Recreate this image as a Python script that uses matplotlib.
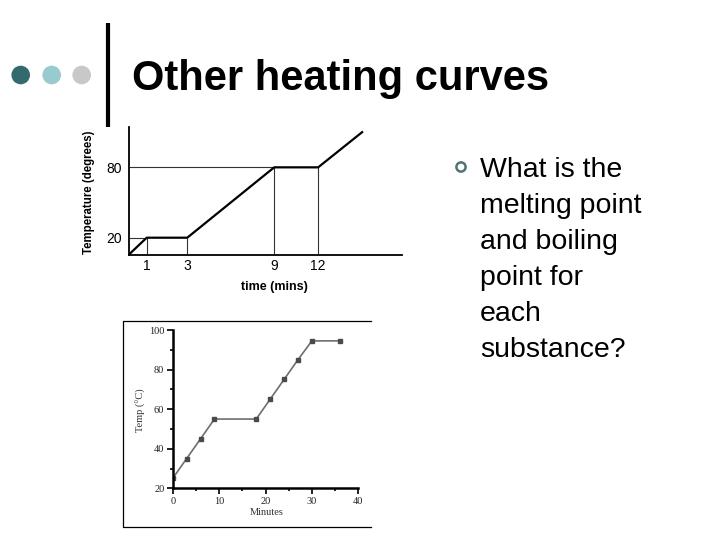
import matplotlib.pyplot as plt
import numpy as np
from matplotlib.patches import Circle

# top chart: schematic heating curve
top_minutes = [0, 1, 3, 9, 12, 15]
top_temps = [0, 20, 20, 80, 80, 110]
top_xticks = [1, 3, 9, 12]
top_yticks = [20, 80]
# plateaus (start minute, end minute, temperature) for the guide lines
plateaus = [(1, 3, 20), (9, 12, 80)]

# bottom chart: measured heating curve
bot_minutes = [0, 3, 6, 9, 18, 21, 24, 27, 30, 36]
bot_temps = [25, 35, 45, 55, 55, 65, 75, 85, 94.5, 94.5]

question = ['What is the', 'melting point', 'and boiling', 'point for', 'each', 'substance?']

# the top chart's axes are drawn unevenly, so use a piecewise scale
x_anchor_min = [-10, 0, 1, 3, 9, 12, 40]
x_anchor_px = [-177, 0, 17.7, 58.3, 145.3, 189.3, 600.0]
y_anchor_deg = [-50, 0, 20, 80, 200]
y_anchor_px = [-44, 0, 16.8, 87.2, 228.0]


def fx(v):
    return np.interp(v, x_anchor_min, x_anchor_px)


def fx_inv(v):
    return np.interp(v, x_anchor_px, x_anchor_min)


def fy(v):
    return np.interp(v, y_anchor_deg, y_anchor_px)


def fy_inv(v):
    return np.interp(v, y_anchor_px, y_anchor_deg)


sans = ['Liberation Sans', 'DejaVu Sans']
serif = ['Liberation Serif', 'DejaVu Serif']

fig = plt.figure(figsize=(7.2, 5.4), dpi=100)

# slide decoration in pixel coordinates
bg = fig.add_axes([0, 0, 1, 1])
bg.set_xlim(0, 720)
bg.set_ylim(540, 0)
bg.axis('off')

for cx, clr in [(20.7, '#336a6d'), (51.7, '#98cbd0'), (81.7, '#c8c8c8')]:
    bg.add_patch(Circle((cx, 75), 9.3, color=clr, lw=0))
bg.plot([107.5, 107.5], [23, 127], color='black', lw=3, solid_capstyle='butt')
bg.text(132, 90, 'Other heating curves', fontsize=30, fontweight='bold',
        family=sans, va='baseline', ha='left')

bg.add_patch(Circle((461, 167), 4.6, fill=False, ec='#4f7477', lw=1.8))
for i, line in enumerate(question):
    bg.text(480, 177 + i * 36, line, fontsize=20.5, family=sans,
            va='baseline', ha='left')

# frame around the bottom picture
bg.plot([371, 122.7, 122.7, 371], [321, 321, 526.7, 526.7], color='black', lw=0.9)

# top chart
ax1 = fig.add_axes([129 / 720, 1 - 254.5 / 540, 272.7 / 720, 127.5 / 540])
ax1.set_facecolor('none')
ax1.set_xscale('function', functions=(fx, fx_inv))
ax1.set_yscale('function', functions=(fy, fy_inv))
for start, end, temp in plateaus:
    ax1.hlines(temp, 0, start, color='#333333', lw=0.8)
    ax1.vlines([start, end], 0, temp, color='#333333', lw=0.8)
ax1.plot(top_minutes, top_temps, color='black', lw=1.6)
ax1.set_xlim(0, 17.7)
ax1.set_ylim(0, 114.4)
ax1.set_xticks(top_xticks)
ax1.set_yticks(top_yticks)
ax1.xaxis.set_minor_locator(plt.NullLocator())
ax1.yaxis.set_minor_locator(plt.NullLocator())
ax1.tick_params(length=0, labelsize=10)
ax1.tick_params(axis='x', pad=3)
ax1.tick_params(axis='y', pad=5)
for lbl in ax1.get_xticklabels() + ax1.get_yticklabels():
    lbl.set_family(sans)
for s in ['top', 'right']:
    ax1.spines[s].set_visible(False)
for s in ['left', 'bottom']:
    ax1.spines[s].set_linewidth(1.3)
ax1.set_ylabel('Temperature (degrees)', fontsize=8.3, fontweight='bold', family=sans, va='center')
ax1.yaxis.set_label_coords(-0.147, 0.49)
ax1.set_xlabel('time (mins)', fontsize=9, fontweight='bold', family=sans, va='center')
ax1.xaxis.set_label_coords(0.535, -0.255)

# bottom chart
ax2 = fig.add_axes([172.7 / 720, 1 - 488.3 / 540, 185.6 / 720, 158.3 / 540])
ax2.set_facecolor('none')
ax2.plot(bot_minutes, bot_temps, color='#6e6e6e', lw=1.2, marker='s', ms=3,
         mfc='#4a4a4a', mec='#4a4a4a')
ax2.set_xlim(0, 40)
ax2.set_ylim(20, 100)
ax2.set_xticks(np.arange(0, 41, 10))
ax2.set_xticks(np.arange(5, 40, 10), minor=True)
ax2.set_yticks(np.arange(20, 101, 20))
ax2.set_yticks(np.arange(30, 100, 20), minor=True)
ax2.tick_params(which='major', length=4, width=1.4, labelsize=7.5, pad=2, colors='#222222')
ax2.tick_params(which='minor', length=2.5, width=1.2)
for lbl in ax2.get_xticklabels() + ax2.get_yticklabels():
    lbl.set_family(serif)
for s in ['top', 'right']:
    ax2.spines[s].set_visible(False)
for s in ['left', 'bottom']:
    ax2.spines[s].set_linewidth(1.8)
ax2.set_ylabel('Temp (°C)', fontsize=7.5, family=serif, color='#333333', va='center')
ax2.yaxis.set_label_coords(-0.171, 0.495)
ax2.set_xlabel('Minutes', fontsize=7.5, family=serif, color='#333333', va='center')
ax2.xaxis.set_label_coords(0.506, -0.156)

plt.savefig('out.png', dpi=100, facecolor='white')
print('Done')
